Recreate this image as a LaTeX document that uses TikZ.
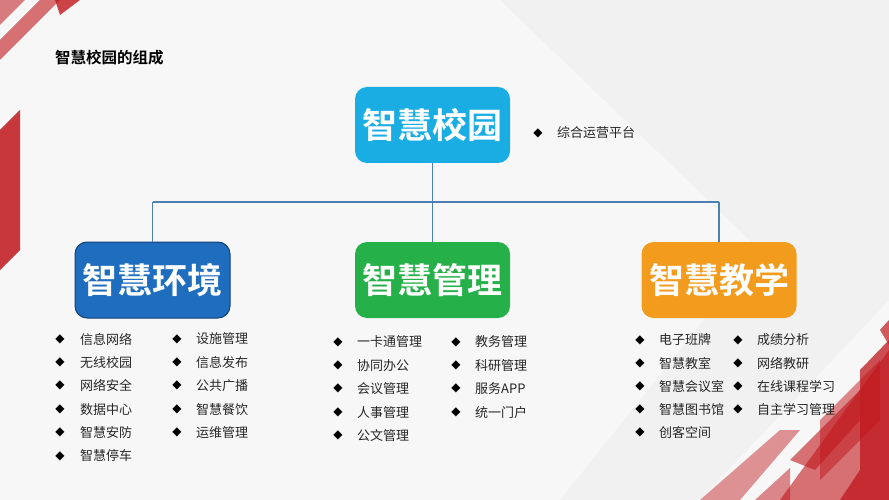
\documentclass[tikz,border=0pt]{standalone}
\usepackage{fontspec}
\setmainfont{Noto Sans CJK SC}
\newfontfamily\cjkb{Noto Sans CJK SC Bold}
\newfontfamily\djsym{DejaVu Sans}
\definecolor{cyanb}{HTML}{1AADE4}
\definecolor{blueb}{HTML}{1F6DBF}
\definecolor{greenb}{HTML}{25B04A}
\definecolor{orangeb}{HTML}{F39B1C}
\definecolor{linec}{HTML}{4D7FB3}
\definecolor{redd}{HTML}{C0161B}
\begin{document}
\begin{tikzpicture}[x=1pt,y=-1pt,
  box/.style={rounded corners=12pt,minimum width=155pt,minimum height=76pt,inner sep=0pt,text=white,font=\cjkb\fontsize{35}{35}\selectfont},
  item/.style={anchor=west,inner sep=0pt,font=\fontsize{13}{13}\selectfont,text=black!85},
  dia/.style={inner sep=0pt,font=\djsym\fontsize{12}{12}\selectfont},
  conn/.style={draw=linec,line width=1.6pt}]
\useasboundingbox (0,0) rectangle (889,500);
\fill[black!3] (0,0) rectangle (889,500);
\fill[black!7,opacity=0.6] (500,0) -- (889,0) -- (889,300) -- (700,500) -- (560,500) -- (760,250) -- cycle;
% red decorations
\fill[redd,opacity=0.85] (0,130) -- (20,110) -- (20,250) -- (0,270) -- cycle;
\fill[redd,opacity=0.6] (0,40) -- (40,0) -- (60,0) -- (0,60) -- cycle;
\fill[redd,opacity=0.8] (55,0) -- (80,0) -- (60,15) -- cycle;
\fill[redd,opacity=0.55] (0,0) -- (25,0) -- (0,25) -- cycle;
\fill[redd,opacity=0.6] (889,350) -- (889,500) -- (780,500) -- cycle;
\fill[redd,opacity=0.75] (860,370) -- (889,340) -- (889,500) -- (840,500) -- (860,470) -- cycle;
\fill[redd,opacity=0.5] (820,420) -- (880,360) -- (880,420) -- (820,480) -- cycle;
\fill[redd,opacity=0.45] (700,500) -- (780,430) -- (800,430) -- (740,500) -- cycle;
\fill[redd,opacity=0.6] (790,460) -- (860,390) -- (860,420) -- (815,470) -- cycle;
\fill[redd,opacity=0.5] (755,500) -- (790,468) -- (790,500) -- cycle;
\fill[redd,opacity=0.7] (880,330) -- (889,320) -- (889,345) -- cycle;
% title
\node[anchor=west,inner sep=0pt,font=\cjkb\fontsize{15.5}{16}\selectfont] (title) at (55,58) {智慧校园的组成};
% boxes
\node[box,fill=cyanb] (top) at (432.5,125) {智慧校园};
\node[box,fill=blueb,draw=blueb!60!black,line width=1pt] (env) at (152.5,280) {智慧环境};
\node[box,fill=greenb] (mgt) at (432.5,280) {智慧管理};
\node[box,fill=orangeb] (edu) at (719,280) {智慧教学};
\coordinate (hub) at (432.5,202);
\coordinate (hl) at (152.5,202);
\coordinate (hr) at (719,202);
\draw[conn] (top.south) -- (hub);
\draw[conn] (hl) -- (hr);
\draw[conn] (hl) -- (env.north);
\draw[conn] (hub) -- (mgt.north);
\draw[conn] (hr) -- (edu.north);
\node[dia] (d0) at (538,133) {◆};
\node[item] (t0) at (557,133) {综合运营平台};
% left
\foreach \t [count=\i] in {信息网络,无线校园,网络安全,数据中心,智慧安防,智慧停车}{
  \node[dia] (la\i) at (60,{339+23.4*(\i-1)}) {◆};
  \node[item] (lt\i) at (80,{339+23.4*(\i-1)}) {\t};}
\foreach \t [count=\i] in {设施管理,信息发布,公共广播,智慧餐饮,运维管理}{
  \node[dia] (lb\i) at (177,{339+23.4*(\i-1)}) {◆};
  \node[item] (lu\i) at (196,{339+23.4*(\i-1)}) {\t};}
% middle
\foreach \t [count=\i] in {一卡通管理,协同办公,会议管理,人事管理,公文管理}{
  \node[dia] (ma\i) at (338,{342+23.4*(\i-1)}) {◆};
  \node[item] (mt\i) at (357,{342+23.4*(\i-1)}) {\t};}
\foreach \t [count=\i] in {教务管理,科研管理,服务APP,统一门户}{
  \node[dia] (mb\i) at (456,{342+23.4*(\i-1)}) {◆};
  \node[item] (mu\i) at (475,{342+23.4*(\i-1)}) {\t};}
% right
\foreach \t [count=\i] in {电子班牌,智慧教室,智慧会议室,智慧图书馆,创客空间}{
  \node[dia] (ra\i) at (640,{340+23.2*(\i-1)}) {◆};
  \node[item] (rt\i) at (659,{340+23.2*(\i-1)}) {\t};}
\foreach \t [count=\i] in {成绩分析,网络教研,在线课程学习,自主学习管理}{
  \node[dia] (rb\i) at (738,{340+23.2*(\i-1)}) {◆};
  \node[item] (ru\i) at (757,{340+23.2*(\i-1)}) {\t};}
\end{tikzpicture}
\end{document}
